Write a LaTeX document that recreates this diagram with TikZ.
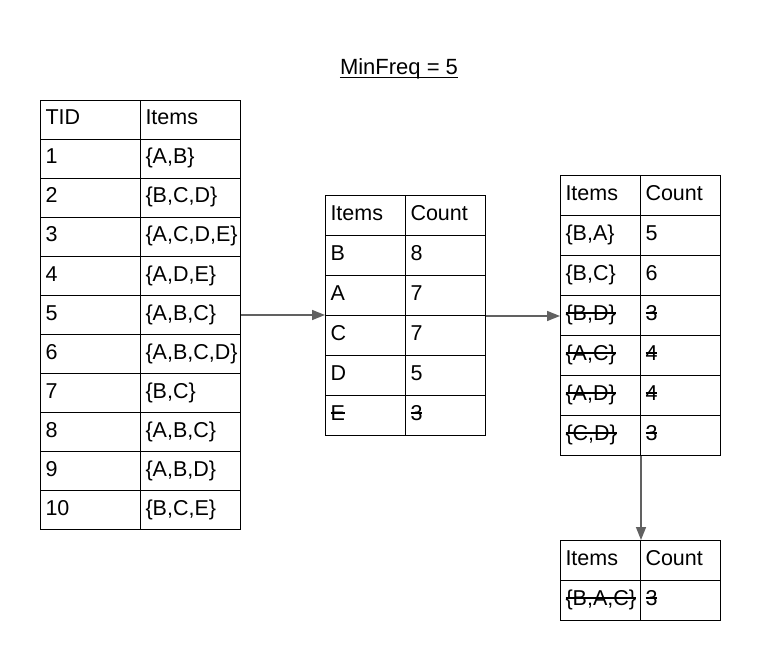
\documentclass[tikz,border=0pt]{standalone}
\usepackage{fontspec}
\setmainfont{Liberation Sans}
\usetikzlibrary{arrows.meta}

\tikzset{
  cell/.style={draw, line width=1pt, anchor=north west, inner xsep=5pt, inner ysep=0pt,
    text height=10pt, text depth=0pt, align=left, font=\fontsize{21.5}{26}\selectfont},
  widecell/.style={cell, text width=90pt, minimum height=39pt},
  smallcell/.style={cell, text width=70pt, minimum height=40pt},
  flow/.style={-{Triangle[length=13pt,width=10pt]}, draw=black!62, fill=black!62, line width=1.5pt}
}
\newcommand{\struck}[1]{\setbox0\hbox{#1}\rlap{\rule[0.32em]{\wd0}{0.07em}}\box0}

\begin{document}
\begin{tikzpicture}[x=1pt,y=-1pt]

\useasboundingbox (0,0) rectangle (760,660);

\node (title) at (399,75) [anchor=base, inner sep=0pt, font=\fontsize{22}{26}\selectfont] {MinFreq = 5};
\draw [line width=1pt] ([yshift=-2.5pt]title.base west) -- ([yshift=-2.5pt]title.base east);

% transactions
\foreach \a/\b [count=\i from 0] in {TID/Items, 1/{\{A,B\}}, 2/{\{B,C,D\}}, 3/{\{A,C,D,E\}},
    4/{\{A,D,E\}}, 5/{\{A,B,C\}}, 6/{\{A,B,C,D\}}, 7/{\{B,C\}}, 8/{\{A,B,C\}},
    9/{\{A,B,D\}}, 10/{\{B,C,E\}}}{
  \node [widecell] (t1-\i-a) at (40,{100+39*\i}) {\a};
  \node [widecell] (t1-\i-b) at (140,{100+39*\i}) {\b};
}

% single items
\foreach \a/\b [count=\i from 0] in {Items/Count, B/8, A/7, C/7, D/5, \struck{E}/\struck{3}}{
  \node [smallcell] (t2-\i-a) at (325,{195+40*\i}) {\a};
  \node [smallcell] (t2-\i-b) at (405,{195+40*\i}) {\b};
}

% pairs
\foreach \a/\b [count=\i from 0] in {Items/Count, {\{B,A\}}/5, {\{B,C\}}/6,
    {\struck{\{B,D\}}}/\struck{3}, {\struck{\{A,C\}}}/\struck{4},
    {\struck{\{A,D\}}}/\struck{4}, {\struck{\{C,D\}}}/\struck{3}}{
  \node [smallcell] (t3-\i-a) at (560,{175+40*\i}) {\a};
  \node [smallcell] (t3-\i-b) at (640,{175+40*\i}) {\b};
}

% triples
\foreach \a/\b [count=\i from 0] in {Items/Count, {\struck{\{B,A,C\}}}/\struck{3}}{
  \node [smallcell] (t4-\i-a) at (560,{540+40*\i}) {\a};
  \node [smallcell] (t4-\i-b) at (640,{540+40*\i}) {\b};
}

\draw [flow] (t1-5-b.east) -- (t1-5-b.east -| t2-2-a.south west);
\draw [flow] (t2-2-b.south east) -- (t2-2-b.south east -| t3-3-a.west);
\draw [flow] (t3-6-a.south east) -- (t4-0-a.north east);

\end{tikzpicture}
\end{document}
